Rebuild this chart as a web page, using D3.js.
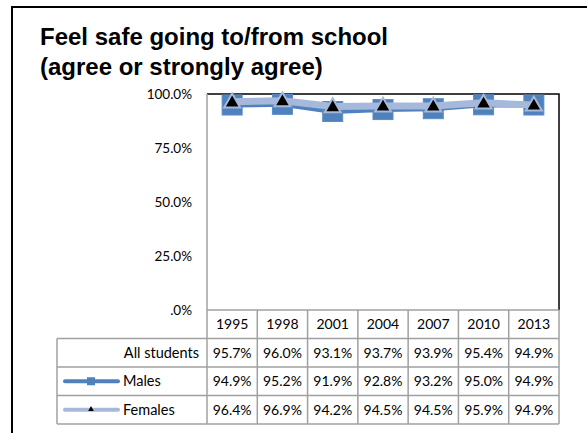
<!DOCTYPE html>
<html>
<head>
<meta charset="utf-8">
<script src="https://cdn.jsdelivr.net/npm/d3@7"></script>
<style>
  body { margin: 0; background: #fff; }
  svg text { font-family: Lato, "Open Sans", sans-serif; }
</style>
</head>
<body>
<svg id="chart" width="587" height="433"></svg>
<script>
// donnees
var years = ["1995", "1998", "2001", "2004", "2007", "2010", "2013"];
var allStudents = [95.7, 96.0, 93.1, 93.7, 93.9, 95.4, 94.9];
var males = [94.9, 95.2, 91.9, 92.8, 93.2, 95.0, 94.9];
var females = [96.4, 96.9, 94.2, 94.5, 94.5, 95.9, 94.9];
var yTicks = [0, 25, 50, 75, 100];
var rowNames = ["All students", "Males", "Females"];

var blue = "#4f81bd", lightBlue = "#a6b9da", grid = "#a0a0a0";

var svg = d3.select("#chart");

// cadre exterieur
svg.append("path")
  .attr("d", "M12,433V7H587")
  .attr("fill", "none").attr("stroke", "#000").attr("stroke-width", 2);

// titre
var title = svg.append("text")
  .attr("x", 40).attr("y", 45)
  .style("font-family", "'Liberation Sans', Arial, sans-serif")
  .style("font-weight", "bold").style("font-size", "24px");
title.append("tspan").attr("x", 40).text("Feel safe going to/from school");
title.append("tspan").attr("x", 40).attr("dy", 30).text("(agree or strongly agree)");

var x = d3.scaleBand().domain(years).range([207, 559]);
var y = d3.scaleLinear().domain([0, 100]).range([310, 94]);

// axe y (labels seulement)
svg.selectAll(".ylab").data(yTicks).enter().append("text")
  .attr("x", 192).attr("y", function(d) { return y(d); })
  .attr("dy", "0.35em").attr("text-anchor", "end")
  .style("font-size", "13.5px")
  .text(function(d) { return d == 0 ? ".0%" : d.toFixed(1) + "%"; });

// zone du graphe
svg.append("path")
  .attr("d", "M207," + y(100) + "H559V310")
  .attr("fill", "none").attr("stroke", "#000").attr("stroke-width", 1.5);
svg.append("line")
  .attr("x1", 207).attr("x2", 207).attr("y1", y(100)).attr("y2", 310)
  .attr("stroke", grid).attr("stroke-width", 1.5);

// tableau
var rowH = 28.5;
var tableTop = 310;
var rowsTop = tableTop + rowH;
var tableLeft = 57;
var g = svg.append("g").attr("stroke", grid).attr("stroke-width", 1.5).attr("fill", "none");
// horizontales
g.append("line").attr("x1", 207).attr("x2", 559).attr("y1", tableTop).attr("y2", tableTop);
for (var i = 0; i <= rowNames.length; i++) {
  g.append("line").attr("x1", tableLeft).attr("x2", 559)
    .attr("y1", rowsTop + i * rowH).attr("y2", rowsTop + i * rowH);
}
// verticales
g.append("line").attr("x1", tableLeft).attr("x2", tableLeft)
  .attr("y1", rowsTop).attr("y2", rowsTop + 3 * rowH);
years.forEach(function(yr) {
  g.append("line").attr("x1", x(yr)).attr("x2", x(yr))
    .attr("y1", tableTop).attr("y2", rowsTop + 3 * rowH);
});
g.append("line").attr("x1", 559).attr("x2", 559)
  .attr("y1", tableTop).attr("y2", rowsTop + 3 * rowH);

// annees
svg.selectAll(".yr").data(years).enter().append("text")
  .attr("x", function(d) { return x(d) + x.bandwidth() / 2; })
  .attr("y", tableTop + rowH / 2).attr("dy", "0.35em")
  .attr("text-anchor", "middle").style("font-size", "14px")
  .text(function(d) { return d; });

// valeurs
[allStudents, males, females].forEach(function(serie, r) {
  svg.selectAll(".v" + r).data(serie).enter().append("text")
    .attr("x", function(d, i) { return x(years[i]) + x.bandwidth() / 2; })
    .attr("y", rowsTop + r * rowH + rowH / 2).attr("dy", "0.35em")
    .attr("text-anchor", "middle").style("font-size", "14px")
    .text(function(d) { return d.toFixed(1) + "%"; });
});

// noms de lignes
svg.append("text").attr("x", 199).attr("y", rowsTop + rowH / 2).attr("dy", "0.35em")
  .attr("text-anchor", "end").style("font-size", "14.5px").text(rowNames[0]);
svg.append("text").attr("x", 123).attr("y", rowsTop + rowH * 1.5).attr("dy", "0.35em")
  .style("font-size", "14.5px").text(rowNames[1]);
svg.append("text").attr("x", 123).attr("y", rowsTop + rowH * 2.5).attr("dy", "0.35em")
  .style("font-size", "14.5px").text(rowNames[2]);

// cles de legende
var kyM = rowsTop + rowH * 1.5, kyF = rowsTop + rowH * 2.5;
svg.append("line").attr("x1", 65).attr("x2", 118).attr("y1", kyM).attr("y2", kyM)
  .attr("stroke", blue).attr("stroke-width", 4).attr("stroke-linecap", "round");
svg.append("rect").attr("x", 87).attr("y", kyM - 4).attr("width", 8).attr("height", 8).attr("fill", blue);
svg.append("line").attr("x1", 65).attr("x2", 118).attr("y1", kyF).attr("y2", kyF)
  .attr("stroke", lightBlue).attr("stroke-width", 4).attr("stroke-linecap", "round");
svg.append("path").attr("d", d3.symbol(d3.symbolTriangle, 14)())
  .attr("transform", "translate(91," + (kyF - 0.5) + ")").attr("fill", "#000");

// series
var line = d3.line()
  .x(function(d, i) { return x(years[i]) + x.bandwidth() / 2; })
  .y(function(d) { return y(d); });

svg.append("path").datum(males).attr("d", line)
  .attr("fill", "none").attr("stroke", blue).attr("stroke-width", 5);
svg.selectAll(".mm").data(males).enter().append("rect")
  .attr("x", function(d, i) { return x(years[i]) + x.bandwidth() / 2 - 10; })
  .attr("y", function(d) { return y(d) - 10; })
  .attr("width", 20).attr("height", 20)
  .attr("fill", blue).attr("stroke", "#5b8cc6").attr("stroke-width", 1);

svg.append("path").datum(females).attr("d", line)
  .attr("fill", "none").attr("stroke", lightBlue).attr("stroke-width", 7);
svg.selectAll(".fm").data(females).enter().append("path")
  .attr("d", d3.symbol(d3.symbolTriangle, 110)())
  .attr("transform", function(d, i) {
    return "translate(" + (x(years[i]) + x.bandwidth() / 2) + "," + (y(d) + 1) + ")";
  })
  .attr("fill", "#000").attr("stroke", lightBlue).attr("stroke-width", 2);
</script>
</body>
</html>
